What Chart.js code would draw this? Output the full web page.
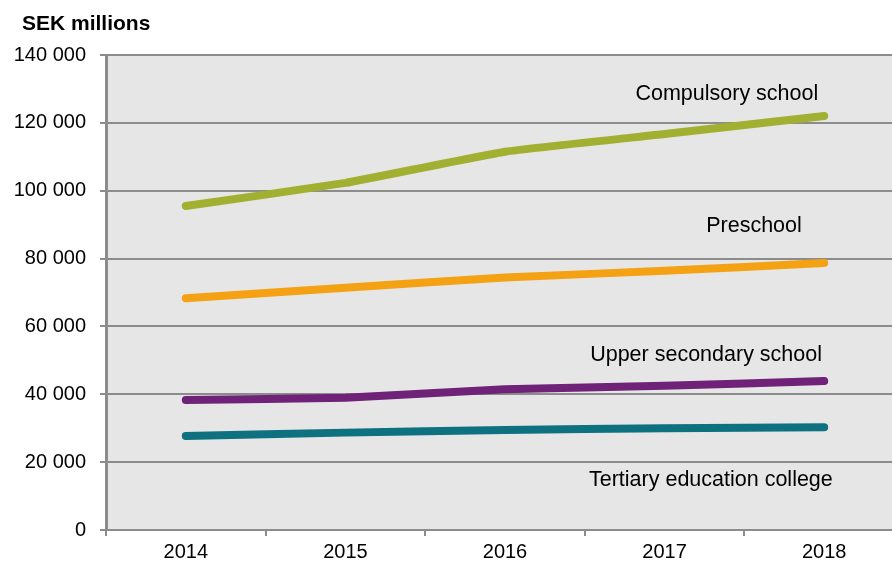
<!DOCTYPE html>
<html>
<head>
<meta charset="utf-8">
<script src="https://cdn.jsdelivr.net/npm/chart.js"></script>
<style>
  html, body { margin: 0; padding: 0; background: #fff; overflow: hidden; }
  #wrap { width: 904px; height: 564px; }
</style>
</head>
<body>
<div id="wrap"><canvas id="chart"></canvas></div>
<script>
// Kostnader per skolform, MSEK
const years = ['2014', '2015', '2016', '2017', '2018'];
const compulsory = [95500, 102300, 111500, 116700, 122000];
const preschool = [68300, 71400, 74400, 76400, 78700];
const upperSecondary = [38300, 39000, 41500, 42500, 43900];
const tertiary = [27700, 28700, 29500, 30000, 30300];
const yTicks = [0, 20000, 40000, 60000, 80000, 100000, 120000, 140000];

// series labels, anchored in data coordinates (category index, value)
const seriesLabels = [
  { text: 'Compulsory school', at: [3.39, 128500] },
  { text: 'Preschool', at: [3.56, 89500] },
  { text: 'Upper secondary school', at: [3.26, 51500] },
  { text: 'Tertiary education college', at: [3.29, 14700] }
];

const font = '"Liberation Sans", Arial, sans-serif';
const gridCol = '#8c8c8c';

function fmt(v) {
  return String(v).replace(/\B(?=(\d{3})+(?!\d))/g, ' ');
}

const labelPlugin = {
  id: 'labels',
  beforeDraw(chart) {
    const { ctx, chartArea: a } = chart;
    ctx.save();
    ctx.fillStyle = '#e6e6e6';
    ctx.fillRect(a.left, a.top, a.right - a.left, a.bottom - a.top);
    ctx.restore();
  },
  afterDraw(chart) {
    const { ctx } = chart;
    const x = chart.scales.x, y = chart.scales.y;
    ctx.save();
    ctx.fillStyle = '#000';
    ctx.font = 'bold 21px ' + font;
    ctx.textAlign = 'left';
    ctx.textBaseline = 'middle';
    ctx.fillText('SEK millions', 22, 24);
    ctx.font = '21.5px ' + font;
    ctx.textAlign = 'center';
    seriesLabels.forEach(l => {
      ctx.fillText(l.text, x.getPixelForValue(l.at[0]), y.getPixelForValue(l.at[1]));
    });
    ctx.restore();
  }
};

function ds(label, data, color) {
  return {
    label, data,
    borderColor: color,
    backgroundColor: color,
    borderWidth: 8,
    borderCapStyle: 'round',
    borderJoinStyle: 'round',
    pointRadius: 0,
    pointHoverRadius: 0,
    tension: 0.12,
    fill: false
  };
}

new Chart(document.getElementById('chart'), {
  type: 'line',
  data: {
    labels: years,
    datasets: [
      ds('Compulsory school', compulsory, '#a2b032'),
      ds('Preschool', preschool, '#f4a213'),
      ds('Upper secondary school', upperSecondary, '#6f2277'),
      ds('Tertiary education college', tertiary, '#0e7180')
    ]
  },
  options: {
    responsive: true,
    maintainAspectRatio: false,
    animation: false,
    layout: { padding: { top: 55, left: 0, right: 0, bottom: 0 } },
    plugins: { legend: { display: false }, tooltip: { enabled: false } },
    scales: {
      x: {
        offset: true,
        grid: { offset: true, drawOnChartArea: false, color: gridCol, tickLength: 6, lineWidth: 2 },
        border: { color: gridCol, width: 2 },
        ticks: { color: '#000', font: { family: font, size: 20 }, padding: 4 },
        afterFit(s) { s.height = 34; }
      },
      y: {
        min: 0,
        max: 140000,
        afterBuildTicks(s) { s.ticks = yTicks.map(v => ({ value: v })); },
        grid: { color: gridCol, lineWidth: 2, tickLength: 6 },
        border: { color: gridCol, width: 3 },
        ticks: {
          color: '#000',
          font: { family: font, size: 20 },
          padding: 14,
          callback: v => fmt(v)
        },
        afterFit(s) { s.width = 106; }
      }
    }
  },
  plugins: [labelPlugin]
});
</script>
</body>
</html>
